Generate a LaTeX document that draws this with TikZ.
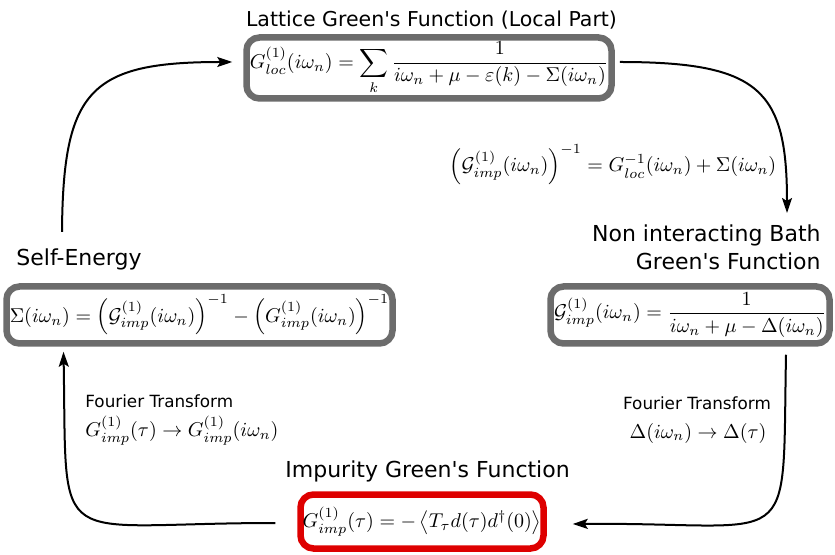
\documentclass[tikz,border=0pt]{standalone}
\usepackage{amsmath}
\usepackage{fontspec}
\setsansfont{DejaVu Sans}
\usetikzlibrary{arrows.meta}
\definecolor{boxgray}{RGB}{108,108,108}
\definecolor{boxred}{RGB}{222,0,0}
\tikzset{
  eqbox/.style={draw=boxgray, line width=3.25pt, rounded corners=6.5pt, inner sep=0pt,
    fill=white, font=\fontsize{9.9}{12}\selectfont},
  impbox/.style={eqbox, draw=boxred},
  heading/.style={font=\sffamily\fontsize{11}{13.75}\selectfont, inner sep=0pt},
  topheading/.style={heading, font=\sffamily\fontsize{10.25}{13.5}\selectfont},
  note/.style={font=\sffamily\fontsize{8.4}{10}\selectfont, inner sep=0pt},
  mathtxt/.style={font=\fontsize{9.9}{12}\selectfont, inner sep=0pt},
  flow/.style={line width=1pt, -{Stealth[length=7.5pt,width=5pt,inset=1.5pt]}},
}
\begin{document}
\begin{tikzpicture}[x=0.5pt,y=-0.5pt]
\useasboundingbox (0,0) rectangle (835,555);

% the four stages of the self-consistency loop
\node[eqbox, minimum width=182.5pt, minimum height=30.5pt] (lattice) at (429,68)
  {$\displaystyle G^{(1)}_{loc}(i\omega_n)=\sum_{k}\frac{1}{i\omega_n+\mu-\varepsilon(k)-\Sigma(i\omega_n)}$};
\node[eqbox, minimum width=139.5pt, minimum height=28.5pt] (bath) at (690,315)
  {$\displaystyle \mathcal{G}^{(1)}_{imp}(i\omega_n)=\frac{1}{i\omega_n+\mu-\Delta(i\omega_n)}$};
\node[eqbox, minimum width=193pt, minimum height=28.5pt] (sigma) at (199.5,315)
  {$\displaystyle \Sigma(i\omega_n)=\left(\mathcal{G}^{(1)}_{imp}(i\omega_n)\right)^{-1}-\left(G^{(1)}_{imp}(i\omega_n)\right)^{-1}$};
\node[impbox, minimum width=121.5pt, minimum height=27pt] (impurity) at (422,521.5)
  {$G^{(1)}_{imp}(\tau)=-\left\langle T_\tau d(\tau)d^\dagger(0)\right\rangle$};

% headings
\node[topheading, anchor=base] (latticeT) at (431.5,27)
  {Lattice Green\textquotesingle s Function (Local Part)};
\node[heading, anchor=north east, align=right] (bathT) at (821,224.5)
  {Non interacting Bath\\Green\textquotesingle s Function};
\node[heading, anchor=base west] (sigmaT) at (16,266) {Self-Energy};
\node[heading, anchor=base west] (impurityT) at (285,477) {Impurity Green\textquotesingle s Function};

% annotations on the connectors
\node[mathtxt, anchor=base] (dyson) at (613,172)
  {$\left(\mathcal{G}^{(1)}_{imp}(i\omega_n)\right)^{-1}=G^{-1}_{loc}(i\omega_n)+\Sigma(i\omega_n)$};
\node[note, anchor=base] (ftR) at (697,410) {Fourier Transform};
\node[mathtxt, anchor=base] (ftRm) at (698,438) {$\Delta(i\omega_n)\to\Delta(\tau)$};
\node[note, anchor=base west] (ftL) at (85,408) {Fourier Transform};
\node[mathtxt, anchor=base west] (ftLm) at (85,437) {$G^{(1)}_{imp}(\tau)\to G^{(1)}_{imp}(i\omega_n)$};

% connector ends that sit next to the headings
\coordinate (bathIn) at ([shift={(-34,-11.5)}]bathT.north east);
\coordinate (sigmaOut) at ([shift={(46,-17)}]sigmaT.north west);

% loop
\draw[flow] ([shift={(5,-6)}]lattice.east) .. controls (760,62) and (787,90) .. (bathIn);
\draw[flow] ([shift={(96,8)}]bath.south) .. controls (782,560) and (800,522) .. ([shift={(26,2.5)}]impurity.east);
\draw[flow] ([shift={(-22,1.5)}]impurity.west) .. controls (49,523) and (67,557) .. ([shift={(-136,5)}]sigma.south);
\draw[flow] (sigmaOut) .. controls (63,90) and (90,62) .. ([shift={(-11,-6)}]lattice.west);
\end{tikzpicture}
\end{document}
